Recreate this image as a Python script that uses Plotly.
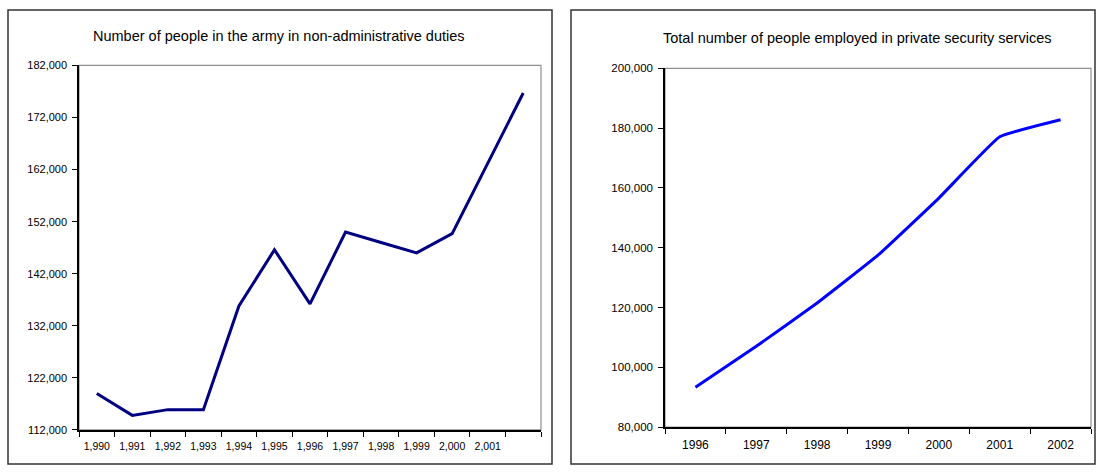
import plotly.graph_objects as go

# ---- data ----
army_years = [str(y) for y in range(1990, 2003)]
army_tick_labels = ["1,990", "1,991", "1,992", "1,993", "1,994", "1,995", "1,996",
                    "1,997", "1,998", "1,999", "2,000", "2,001", ""]
army_values = [119000, 114800, 115900, 115900, 135800, 146600, 136200,
               150000, 148000, 146000, 149700, 163200, 176700]

security_years = ["1996", "1997", "1998", "1999", "2000", "2001", "2002"]
security_values = [93300, 107000, 121500, 137500, 156600, 177100, 182800]

left_title = "Number of people in the army in non-administrative duties"
right_title = "Total number of people employed in private security services"

W, H = 1096, 472
FONT = "Liberation Sans, Arial, sans-serif"


def px(x):
    return x / W


def py(y):
    return 1 - y / H


fig = go.Figure()
fig.add_trace(go.Scatter(x=army_years, y=army_values, mode="lines",
                         line=dict(color="#000080", width=3),
                         xaxis="x", yaxis="y", showlegend=False))
fig.add_trace(go.Scatter(x=security_years, y=security_values, mode="lines",
                         line=dict(color="#0000FF", width=3, shape="spline", smoothing=0.3),
                         xaxis="x2", yaxis="y2", showlegend=False))

axis_common = dict(showgrid=False, zeroline=False, showline=True, linecolor="black",
                   linewidth=1.5, ticks="outside", ticklen=5, tickcolor="black",
                   tickwidth=1.2, tickfont=dict(family=FONT, size=11, color="black"))

fig.update_layout(
    width=W, height=H,
    margin=dict(l=0, r=0, t=0, b=0),
    paper_bgcolor="white", plot_bgcolor="white",
    xaxis=dict(axis_common, domain=[px(79), px(541)], anchor="y", type="category",
               tickmode="array", tickvals=army_years, ticktext=army_tick_labels,
               tickson="boundaries", range=[-0.5, 12.5], ticklabelstandoff=6,
               tickangle=0,
               tickfont=dict(family=FONT, size=10.5, color="black")),
    yaxis=dict(axis_common, domain=[py(435), py(61)], anchor="x",
               range=[112000, 182000], tick0=112000, dtick=10000, tickformat=",",
               ticklabelstandoff=3,
               tickfont=dict(family=FONT, size=11, color="black")),
    xaxis2=dict(axis_common, domain=[px(665), px(1091)], anchor="y2", type="category",
                tickson="boundaries", range=[-0.5, 6.5], ticklabelstandoff=6,
                tickangle=0,
                tickfont=dict(family=FONT, size=12, color="black")),
    yaxis2=dict(axis_common, domain=[py(432), py(64)], anchor="x2",
                range=[80000, 200000], dtick=20000, tickformat=",",
                ticklabelstandoff=3,
                tickfont=dict(family=FONT, size=11.5, color="black")),
    shapes=[
        # panel frames
        dict(type="rect", xref="paper", yref="paper", x0=px(8), x1=px(552), y0=py(470), y1=py(4),
             line=dict(color="#333333", width=1.5), layer="below"),
        dict(type="rect", xref="paper", yref="paper", x0=px(571), x1=px(1095), y0=py(470), y1=py(4),
             line=dict(color="#333333", width=1.5), layer="below"),
        # plot area borders
        dict(type="rect", xref="x domain", yref="y domain", x0=0, x1=1, y0=0, y1=1,
             line=dict(color="#909090", width=1.2), layer="below"),
        dict(type="rect", xref="x2 domain", yref="y2 domain", x0=0, x1=1, y0=0, y1=1,
             line=dict(color="#909090", width=1.2), layer="below"),
    ],
    annotations=[
        dict(text=left_title, xref="paper", yref="paper", x=px(279), y=py(31),
             showarrow=False, xanchor="center", yanchor="middle",
             font=dict(family=FONT, size=14.5, color="black")),
        dict(text=right_title, xref="paper", yref="paper", x=px(857), y=py(33),
             showarrow=False, xanchor="center", yanchor="middle",
             font=dict(family=FONT, size=14.5, color="black")),
    ],
)

fig.write_html("out.html")
